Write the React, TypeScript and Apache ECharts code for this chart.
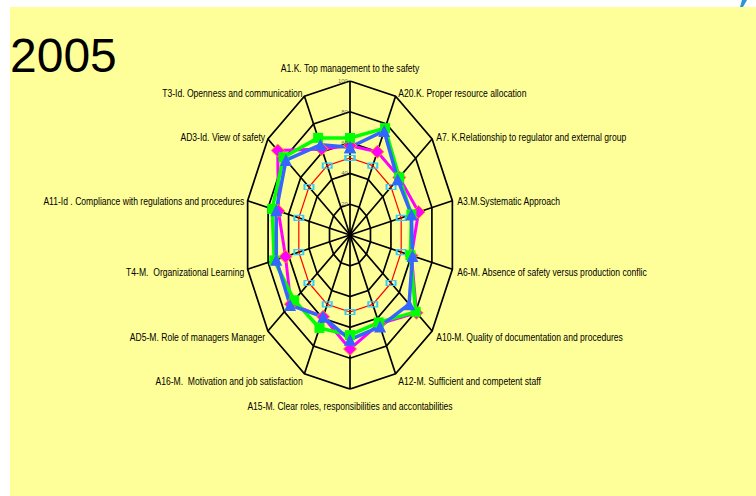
import React, { useEffect, useRef } from "react";
import * as echarts from "echarts";

const indicators = [
  "A1.K. Top management to the safety",
  "A20.K. Proper resource allocation",
  "A7. K.Relationship to regulator and external group",
  "A3.M.Systematic Approach",
  "A6-M. Absence of safety versus production conflic",
  "A10-M. Quality of documentation and procedures",
  "A12-M. Sufficient and competent staff",
  "A15-M. Clear roles, responsibilities and accontabilities",
  "A16-M.  Motivation and job satisfaction",
  "AD5-M. Role of managers Manager",
  "T4-M.  Organizational Learning",
  "A11-Id . Compliance with regulations and procedures",
  "AD3-Id. View of safety",
  "T3-Id. Openness and communication",
];

const tickValues = [20, 40, 60, 80, 100];

const redValues = [50, 50, 50, 50, 50, 50, 50, 50, 50, 50, 50, 50, 50, 50];
const magentaValues = [58, 60, 60, 67, 60, 81, 64, 74, 59, 72, 63, 70, 88, 62];
const greenValues = [63, 77, 60, 60, 59, 80, 63, 65, 67, 68, 74, 76, 81, 70];
const blueValues = [57, 75, 58, 60, 61, 72, 66, 68, 59, 73, 72, 72, 78, 65];

const titleText = "2005";
const SANS = "'Liberation Sans', Arial, sans-serif";

export default function App() {
  const ref = useRef<HTMLDivElement>(null);

  useEffect(() => {
    const chart = echarts.init(ref.current!, null, { renderer: "svg" });
    const n = indicators.length;
    const ang = (k: number) => (k * 2 * Math.PI) / n;
    const pt = (k: number, v: number) => [v * Math.sin(ang(k)), v * Math.cos(ang(k))];
    const closed = (vals: number[]) => {
      const d = vals.map((v, k) => pt(k, v));
      d.push(d[0]);
      return d;
    };
    const ring = (t: number) => closed(indicators.map(() => t));

    const dataSeries = (
      name: string,
      vals: number[],
      color: string,
      width: number,
      symbol: string,
      symbolSize: number | number[],
      itemStyle: any
    ) => ({
      type: "line",
      name,
      data: closed(vals),
      symbol,
      symbolSize,
      clip: false,
      silent: true,
      lineStyle: { color, width },
      itemStyle,
      z: 5,
    });

    const baseGraphics: any[] = [
      {
        type: "rect",
        z: -10,
        shape: { x: 10, y: 7, width: 746, height: 489 },
        style: { fill: "#FFFF99" },
        silent: true,
      },
      {
        type: "polygon",
        shape: { points: [[742, 0], [747, 0], [743, 7], [740, 7]] },
        style: { fill: "#2E95D3" },
        silent: true,
      },
      {
        type: "text",
        x: 10,
        y: 55,
        style: {
          text: titleText,
          fontSize: 48,
          fontFamily: SANS,
          fill: "#000",
          verticalAlign: "middle",
        },
        silent: true,
      },
    ];

    chart.setOption({
      animation: false,
      backgroundColor: "#ffffff",
      graphic: baseGraphics,
      grid: { left: 245, top: 81, width: 210, height: 308 },
      xAxis: { type: "value", min: -100, max: 100, show: false },
      yAxis: { type: "value", min: -100, max: 100, show: false },
      series: [
        {
          type: "lines",
          coordinateSystem: "cartesian2d",
          polyline: true,
          silent: true,
          lineStyle: { color: "#000", width: 1.7, opacity: 1 },
          data: tickValues.map((t) => ({ coords: ring(t) })),
          z: 1,
        },
        {
          type: "lines",
          coordinateSystem: "cartesian2d",
          silent: true,
          lineStyle: { color: "#000", width: 1.7, opacity: 1 },
          data: indicators.map((_, k) => ({ coords: [[0, 0], pt(k, 100)] })),
          z: 1,
        },
        dataSeries("red", redValues, "#FF0000", 1.2, "rect", [9, 5], {
          color: "rgba(0,0,0,0)",
          borderColor: "#33CCFF",
          borderWidth: 1.5,
        }),
        dataSeries("magenta", magentaValues, "#FF00FF", 3, "diamond", 13, {
          color: "#FF00FF",
          borderColor: "#FF9900",
          borderWidth: 1,
        }),
        dataSeries("green", greenValues, "#00FF00", 3.5, "rect", 10, {
          color: "#00FF00",
        }),
        dataSeries("blue", blueValues, "#3366FF", 3.5, "triangle", 12, {
          color: "#3366FF",
        }),
        {
          type: "scatter",
          silent: true,
          symbolSize: 0.1,
          itemStyle: { color: "rgba(0,0,0,0)" },
          clip: false,
          z: 6,
          label: {
            show: true,
            formatter: "{b}",
            color: "#444",
            fontSize: 6,
            fontFamily: SANS,
            position: "left",
            distance: 2,
          },
          data: tickValues.map((t) => ({ name: String(t), value: [0, t] })),
        },
      ],
    });

    // axis names: condensed text placed at each spoke's outer end
    const nameGraphics = indicators.map((name, k) => {
      const s = Math.sin(ang(k));
      const c = Math.cos(ang(k));
      const [px, py] = chart.convertToPixel({ gridIndex: 0 }, pt(k, 100)) as number[];
      let x = px;
      let y = py;
      let align = "center";
      if (Math.abs(s) < 0.01) {
        y = c > 0 ? py - 13 : py + 17;
      } else if (s > 0) {
        align = "left";
        x = px + 1 + 4 * s;
        y = py + 2 - 6 * c;
      } else {
        align = "right";
        x = px - (0.5 + 3 * Math.abs(s));
        y = py + 2 - 6 * c;
      }
      return {
        type: "text",
        x,
        y,
        scaleX: 0.81,
        silent: true,
        style: {
          text: name,
          fontSize: 10.6,
          fontFamily: SANS,
          fill: "#000",
          align,
          verticalAlign: "middle",
        },
      };
    });

    chart.setOption({ graphic: [...baseGraphics, ...nameGraphics] });

    return () => chart.dispose();
  }, []);

  return (
    <div
      ref={ref}
      style={{ position: "fixed", left: 0, top: 0, width: 756, height: 496 }}
    />
  );
}
